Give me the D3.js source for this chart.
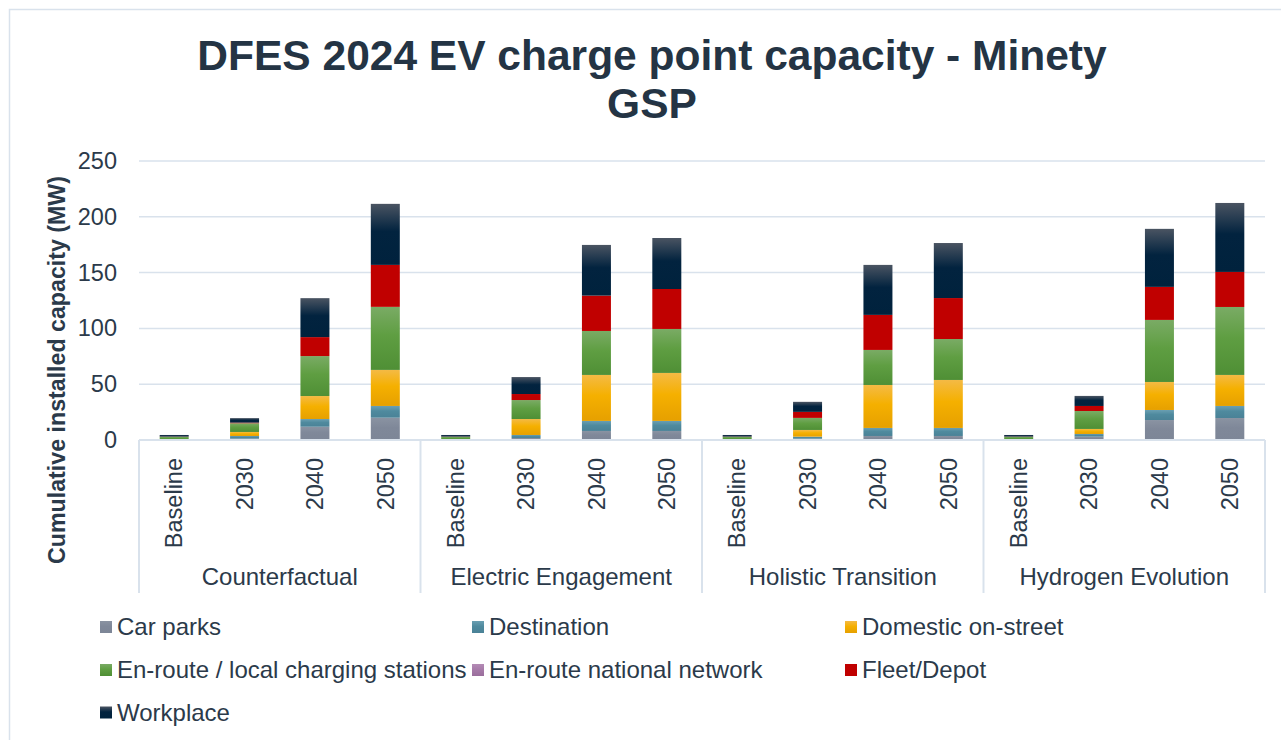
<!DOCTYPE html>
<html>
<head>
<meta charset="utf-8">
<script src="https://cdn.jsdelivr.net/npm/d3@7"></script>
<style>
  body { margin: 0; background: #fff; }
  svg { display: block; font-family: "Liberation Sans", Arial, sans-serif; }
</style>
</head>
<body>
<svg id="chart" width="1281" height="740"></svg>
<script>
// scenarios and years (x axis, two levels)
const scenarios = ['Counterfactual', 'Electric Engagement', 'Holistic Transition', 'Hydrogen Evolution'];
const years = ['Baseline', '2030', '2040', '2050'];

const seriesNames = ['Car parks', 'Destination', 'Domestic on-street', 'En-route / local charging stations',
  'En-route national network', 'Fleet/Depot', 'Workplace'];

// values in MW, 16 per series: scenario by scenario, Baseline/2030/2040/2050
const carParks        = [0.2, 1.2, 11.9, 20.0,  0.2, 1.8, 8.1, 8.1,    0.2, 1.2, 3.6, 3.6,    0.2, 3.0, 17.9, 19.7];
const destination     = [0.1, 2.4, 6.9, 10.5,   0.1, 2.7, 9.0, 9.0,    0.1, 1.8, 7.2, 7.2,    0.1, 2.4, 9.0, 10.8];
const domesticStreet  = [0.1, 3.6, 20.6, 32.3,  0.1, 14.3, 41.2, 43.0, 0.1, 6.0, 38.5, 43.0,  0.1, 4.5, 25.1, 27.8];
const enrouteLocal    = [2.5, 7.8, 35.8, 56.5,  2.5, 17.0, 39.4, 39.4, 2.5, 10.8, 31.4, 36.7, 2.5, 16.1, 55.6, 60.9];
const enrouteNational = [0, 0, 0, 0,            0, 0, 0, 0,            0, 0, 0, 0,            0, 0, 0, 0];
const fleetDepot      = [0.2, 0.6, 17.0, 37.6,  0.2, 5.4, 31.7, 35.8,  0.2, 5.4, 31.4, 36.7,  0.2, 4.5, 29.6, 31.4];
const workplace       = [1.4, 4.0, 34.9, 54.7,  1.4, 15.2, 45.4, 45.7, 1.4, 9.0, 44.8, 49.3,  1.4, 9.0, 52.0, 61.8];

const yTicks = [0, 50, 100, 150, 200, 250];

const seriesValues = [carParks, destination, domesticStreet, enrouteLocal, enrouteNational, fleetDepot, workplace];

// [top, middle, bottom] colours of each segment gradient
const colors = [
  ['#8a93a2', '#7f8899', '#7d8697'],
  ['#6a9fb2', '#4f8a9e', '#4a8297'],
  ['#f4ba45', '#f5b000', '#e6a000'],
  ['#7aab65', '#5f9e42', '#4f8f35'],
  ['#b48bb5', '#a77ba9', '#9a6e9c'],
  ['#c00000', '#c00000', '#c00000'],
  ['#4a5462', '#02233f', '#00223d']
];

const textColor = '#2b3a4a';
const lineColor = '#d9e2ec';

const svg = d3.select('#chart');

// table for the stack
const rows = [];
scenarios.forEach((s, si) => {
  years.forEach((yr, yi) => {
    const row = { scenario: s, year: yr };
    seriesNames.forEach((n, k) => { row[n] = seriesValues[k][si * 4 + yi]; });
    rows.push(row);
  });
});

const stacked = d3.stack().keys(seriesNames)(rows);

// chart frame
svg.append('rect')
  .attr('x', 9.5).attr('y', 9.5)
  .attr('width', 1300).attr('height', 760)
  .attr('fill', 'none')
  .attr('stroke', lineColor)
  .attr('stroke-width', 1.5);

// title
const title = svg.append('text')
  .attr('text-anchor', 'middle')
  .attr('font-size', 42.5)
  .attr('font-weight', 'bold')
  .attr('fill', '#243444');
title.append('tspan').attr('x', 652).attr('y', 70).text('DFES 2024 EV charge point capacity - Minety');
title.append('tspan').attr('x', 652).attr('y', 118).text('GSP');

const left = 139, right = 1265;

const x0 = d3.scaleBand().domain(scenarios).range([left, right]);
const x1 = d3.scaleBand().domain(years).range([0, x0.bandwidth()])
  .paddingInner(0.588).paddingOuter(0.294);
const y = d3.scaleLinear().domain([0, 250]).range([440, 161]);

// gridlines
svg.append('g')
  .selectAll('line')
  .data(yTicks.filter(d => d > 0))
  .enter()
  .append('line')
  .attr('x1', left).attr('x2', right)
  .attr('y1', d => y(d)).attr('y2', d => y(d))
  .attr('stroke', lineColor)
  .attr('stroke-width', 1.5);

// y axis labels
const yAxis = svg.append('g')
  .attr('transform', 'translate(117,0)')
  .call(d3.axisLeft(y).tickValues(yTicks).tickSize(0).tickPadding(0));
yAxis.select('.domain').remove();
yAxis.selectAll('text')
  .attr('font-size', 23.5)
  .attr('font-family', '"Liberation Sans", Arial, sans-serif')
  .attr('fill', textColor);

svg.append('text')
  .attr('transform', 'translate(65,370) rotate(-90)')
  .attr('text-anchor', 'middle')
  .attr('font-size', 23.2)
  .attr('font-weight', 'bold')
  .attr('fill', textColor)
  .text('Cumulative installed capacity (MW)');

// gradients
const defs = svg.append('defs');
colors.forEach((c, i) => {
  const g = defs.append('linearGradient')
    .attr('id', 'grad' + i)
    .attr('x1', 0).attr('y1', 0).attr('x2', 0).attr('y2', 1);
  g.append('stop').attr('offset', '0%').attr('stop-color', c[0]);
  g.append('stop').attr('offset', '45%').attr('stop-color', c[1]);
  g.append('stop').attr('offset', '100%').attr('stop-color', c[2]);
});

// bars
svg.append('g')
  .selectAll('g')
  .data(stacked)
  .enter()
  .append('g')
  .attr('fill', (d, i) => 'url(#grad' + i + ')')
  .selectAll('rect')
  .data(d => d)
  .enter()
  .append('rect')
  .attr('x', d => x0(d.data.scenario) + x1(d.data.year))
  .attr('width', x1.bandwidth())
  .attr('y', d => y(d[1]))
  .attr('height', d => y(d[0]) - y(d[1]));

// category axis: baseline and group separators
svg.append('line')
  .attr('x1', left).attr('x2', right)
  .attr('y1', 440).attr('y2', 440)
  .attr('stroke', lineColor).attr('stroke-width', 2);

svg.append('g')
  .selectAll('line')
  .data(scenarios.map(s => x0(s)).concat([right]))
  .enter()
  .append('line')
  .attr('x1', d => d).attr('x2', d => d)
  .attr('y1', 440).attr('y2', 593)
  .attr('stroke', lineColor).attr('stroke-width', 2);

// year labels (rotated)
const yearLabels = [];
scenarios.forEach(s => years.forEach(yr => yearLabels.push({ s: s, yr: yr })));

svg.append('g')
  .selectAll('text')
  .data(yearLabels)
  .enter()
  .append('text')
  .attr('transform', d => 'translate(' + (x0(d.s) + x1(d.yr) + x1.bandwidth() / 2) + ',458) rotate(-90)')
  .attr('text-anchor', 'end')
  .attr('dy', '0.35em')
  .attr('font-size', 23.5)
  .attr('fill', textColor)
  .text(d => d.yr);

// scenario labels
svg.append('g')
  .selectAll('text')
  .data(scenarios)
  .enter()
  .append('text')
  .attr('x', d => x0(d) + x0.bandwidth() / 2)
  .attr('y', 585)
  .attr('text-anchor', 'middle')
  .attr('font-size', 24)
  .attr('fill', textColor)
  .text(d => d);

// legend
const legendX = [100, 472, 845];
const legendY = [627, 670, 712.5];

const legend = svg.append('g')
  .selectAll('g')
  .data(seriesNames)
  .enter()
  .append('g')
  .attr('transform', (d, i) => 'translate(' + legendX[i % 3] + ',' + legendY[Math.floor(i / 3)] + ')');

legend.append('rect')
  .attr('x', 0).attr('y', -6)
  .attr('width', 12).attr('height', 12)
  .attr('fill', (d, i) => 'url(#grad' + i + ')');

legend.append('text')
  .attr('x', 17)
  .attr('dy', '0.35em')
  .attr('font-size', 24)
  .attr('fill', textColor)
  .text(d => d);
</script>
</body>
</html>
